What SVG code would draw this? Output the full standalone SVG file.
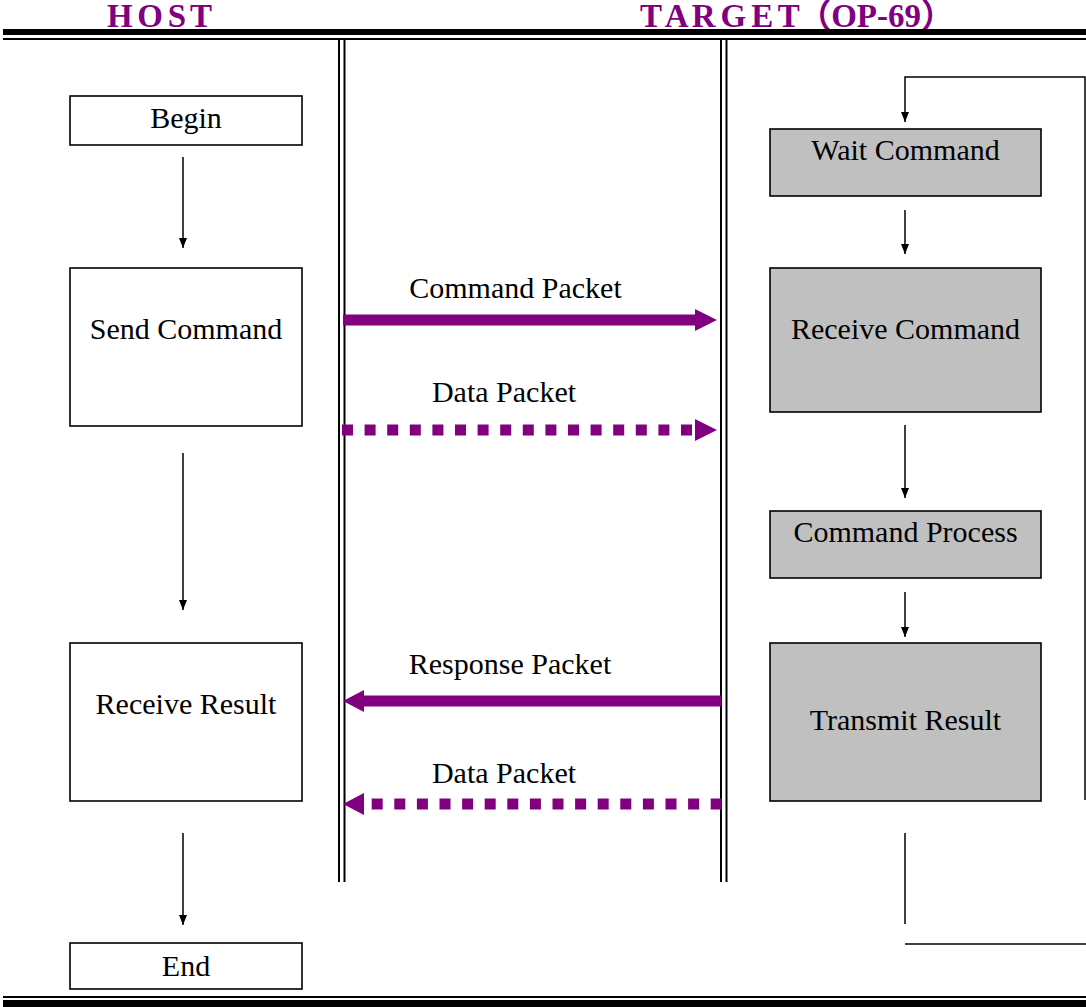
<svg xmlns="http://www.w3.org/2000/svg" width="1086" height="1007" viewBox="0 0 1086 1007">
<style>
.box{fill:#fff;stroke:#000;stroke-width:1.6}
.gbox{fill:#c0c0c0;stroke:#000;stroke-width:1.6}
.t{font-family:"Liberation Serif","Times New Roman",serif;font-size:30px;fill:#000;text-anchor:middle}
.title{font-family:"Liberation Serif","Noto Sans CJK SC",serif;font-size:33px;font-weight:bold;fill:#800080}
.ln{stroke:#000;stroke-width:1.5;fill:none}
.arr{stroke:#000;stroke-width:1.5;fill:none;marker-end:url(#ah)}
.pb{stroke:#800080;stroke-width:11;fill:none}
.pd{stroke:#800080;stroke-width:11;fill:none;stroke-dasharray:11 11.6}
.ph{fill:#800080}
</style>
<defs>
<marker id="ah" viewBox="0 0 10 8" refX="10" refY="4" markerWidth="10" markerHeight="8" orient="auto" markerUnits="userSpaceOnUse"><path d="M0,0 L10,4 L0,8 z" fill="#000"/></marker>
</defs>
<rect width="1086" height="1007" fill="#fff"/>
<g id="frame">
<text class="title" x="107" y="27" letter-spacing="-1.8">H O S T</text>
<text class="title" x="640" y="27" letter-spacing="-1.6">T A R G E T<tspan letter-spacing="0">（OP-69）</tspan></text>
<line x1="3" y1="32" x2="1086" y2="32" stroke="#000" stroke-width="6"/>
<line x1="3" y1="39" x2="1086" y2="39" stroke="#000" stroke-width="2"/>
<line x1="3" y1="997" x2="1086" y2="997" stroke="#000" stroke-width="2"/>
<line x1="3" y1="1003.5" x2="1086" y2="1003.5" stroke="#000" stroke-width="7"/>
<line x1="339" y1="38" x2="339" y2="882" stroke="#000" stroke-width="2"/>
<line x1="344.5" y1="38" x2="344.5" y2="882" stroke="#000" stroke-width="2"/>
<line x1="721" y1="38" x2="721" y2="882" stroke="#000" stroke-width="2"/>
<line x1="726.5" y1="38" x2="726.5" y2="882" stroke="#000" stroke-width="2"/>
</g>
<g id="begin"><rect class="box" x="70" y="96" width="232" height="49"/><text class="t" x="186" y="128">Begin</text></g>
<g id="send-command"><rect class="box" x="70" y="268" width="232" height="158"/><text class="t" x="186" y="339">Send Command</text></g>
<g id="receive-result"><rect class="box" x="70" y="643" width="232" height="158"/><text class="t" x="186" y="714">Receive Result</text></g>
<g id="end"><rect class="box" x="70" y="943" width="232" height="46"/><text class="t" x="186" y="976">End</text></g>
<g id="wait-command"><rect class="gbox" x="770" y="129" width="271" height="67"/><text class="t" x="905.5" y="160">Wait Command</text></g>
<g id="receive-command"><rect class="gbox" x="770" y="268" width="271" height="144"/><text class="t" x="905.5" y="339">Receive Command</text></g>
<g id="command-process"><rect class="gbox" x="770" y="511" width="271" height="67"/><text class="t" x="905.5" y="542">Command Process</text></g>
<g id="transmit-result"><rect class="gbox" x="770" y="643" width="271" height="158"/><text class="t" x="905.5" y="730">Transmit Result</text></g>
<g id="connectors">
<line class="arr" x1="183" y1="157" x2="183" y2="248"/>
<line class="arr" x1="183" y1="453" x2="183" y2="610"/>
<line class="arr" x1="183" y1="833" x2="183" y2="925"/>
<line class="arr" x1="905" y1="210" x2="905" y2="254"/>
<line class="arr" x1="905" y1="425" x2="905" y2="498"/>
<line class="arr" x1="905" y1="592" x2="905" y2="637"/>
<polyline class="arr" points="1085,800 1085,77 905,77 905,122"/>
<line class="ln" x1="905" y1="833" x2="905" y2="924"/>
<line class="ln" x1="905" y1="944" x2="1086" y2="944"/>
<line class="pb" x1="343" y1="320" x2="697" y2="320"/>
<polygon class="ph" points="695,309 717,320 695,331"/>
<text class="t" x="515.5" y="298">Command Packet</text>
<line class="pd" x1="342" y1="430" x2="695" y2="430"/>
<polygon class="ph" points="695,419 717,430 695,441"/>
<text class="t" x="504" y="402">Data Packet</text>
<line class="pb" x1="721" y1="701" x2="362" y2="701"/>
<polygon class="ph" points="343,701 364,690 364,712"/>
<text class="t" x="510" y="674">Response Packet</text>
<line class="pd" x1="721.7" y1="804" x2="365" y2="804"/>
<polygon class="ph" points="343,804 364,793 364,815"/>
<text class="t" x="504" y="783">Data Packet</text>
</g>
</svg>
